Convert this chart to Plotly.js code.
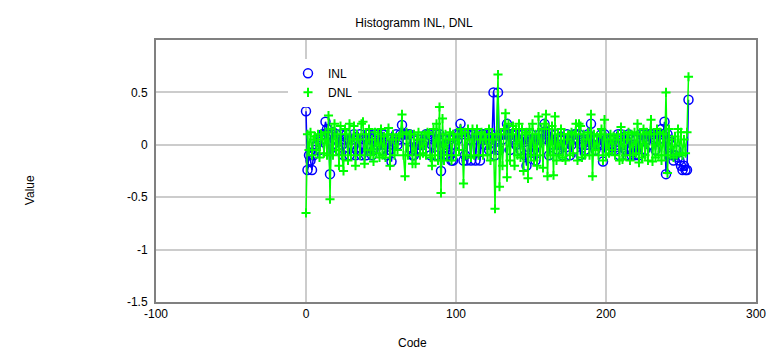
<!DOCTYPE html>
<html>
<head>
<meta charset="utf-8">
<script src="https://cdn.plot.ly/plotly-3.0.1.min.js"></script>
<style>html,body{margin:0;padding:0;background:#fff;}#chart{width:779px;height:356px;}</style>
</head>
<body>
<div id="chart"></div>
<script>
const chartTitle = "Histogramm INL, DNL";
const xTitle = "Code";
const yTitle = "Value";
const seriesNames = ["INL", "DNL"];
const xTickVals = [-100, 0, 100, 200, 300];
const xTickText = ["-100", "0", "100", "200", "300"];
const yTickVals = [-1.5, -1, -0.5, 0, 0.5];
const yTickText = ["-1.5", "-1", "-0.5", "0", "0.5"];

const inl = [
 0.32,-0.24,-0.10,-0.15,-0.24,-0.10,-0.05,0.00,0.05,-0.05,0.05,0.10,0.10,0.22,0.15,0.10,
 -0.28,0.10,0.12,0.05,0.10,0.05,-0.05,0.10,0.00,-0.10,0.05,0.10,0.05,-0.10,0.00,0.05,
 0.10,-0.10,-0.05,0.05,0.10,-0.10,0.00,0.05,-0.10,0.10,0.10,0.05,-0.10,-0.05,0.10,0.00,
 0.10,0.05,-0.05,0.10,0.10,0.00,-0.10,0.05,-0.05,-0.16,0.00,0.05,0.10,0.00,0.05,0.10,
 0.19,0.10,0.10,0.05,0.10,0.10,-0.05,-0.10,-0.10,-0.05,0.00,0.05,0.00,-0.05,0.00,0.05,
 0.10,0.05,0.10,-0.10,0.00,0.05,-0.10,0.10,0.05,0.10,-0.25,-0.10,0.05,0.00,-0.05,-0.10,
 0.05,-0.15,-0.15,0.00,0.10,0.05,0.10,0.20,0.10,-0.15,-0.10,-0.15,0.10,0.05,-0.15,0.10,
 0.10,-0.15,0.05,0.10,-0.15,0.05,0.10,0.00,0.10,0.05,-0.05,0.10,0.05,0.50,-0.10,0.05,
 0.50,-0.05,0.10,0.05,0.10,0.10,0.20,0.10,-0.05,0.10,0.05,0.10,0.00,0.10,0.05,-0.05,
 0.10,0.05,-0.10,-0.20,-0.05,0.05,0.10,0.05,-0.05,-0.15,0.00,0.05,0.10,0.05,0.10,0.20,
 0.10,0.05,-0.10,0.10,0.05,0.00,0.10,0.05,-0.05,0.00,0.05,-0.10,0.00,0.05,0.10,0.05,
 -0.10,0.00,0.05,0.10,0.10,0.05,0.10,-0.10,0.00,0.05,-0.05,0.00,0.10,0.05,0.20,0.00,
 0.05,-0.05,0.00,0.05,0.00,0.10,-0.16,0.10,0.05,0.00,-0.05,0.05,0.00,0.05,-0.05,0.00,
 0.10,-0.10,0.10,0.05,0.00,-0.05,-0.10,0.10,0.05,-0.10,0.00,-0.10,0.05,-0.05,-0.10,0.10,
 0.05,0.10,-0.05,0.05,0.10,0.00,0.10,0.10,0.05,-0.05,0.10,0.05,0.10,0.15,0.10,0.22,
 -0.28,0.10,0.05,0.00,-0.10,-0.15,-0.10,-0.05,-0.12,-0.15,-0.20,-0.24,-0.20,-0.24,-0.24,0.43
];

const dnl = [
 -0.65,0.10,-0.05,0.12,-0.10,0.05,0.08,-0.05,0.10,-0.12,0.10,0.05,-0.08,0.12,-0.10,0.28,
 -0.52,0.15,-0.10,0.20,-0.05,0.10,-0.20,0.18,-0.10,-0.25,0.15,0.10,-0.15,0.20,-0.10,0.05,
 0.18,-0.20,0.10,0.05,-0.10,0.20,0.22,-0.18,0.10,-0.05,0.15,-0.10,0.05,-0.16,0.12,-0.08,
 0.10,-0.12,0.15,-0.10,0.08,-0.12,0.10,0.16,-0.20,0.05,0.10,-0.10,0.05,-0.05,0.08,0.10,
 0.29,-0.10,-0.30,0.12,-0.10,0.10,0.10,-0.18,0.10,-0.18,0.05,0.12,-0.10,0.05,-0.08,0.10,
 -0.10,0.12,0.10,-0.12,-0.20,0.15,-0.10,0.20,-0.15,0.36,-0.46,0.25,-0.15,0.10,-0.10,0.05,
 0.12,-0.15,0.10,0.05,-0.10,0.10,-0.05,0.15,0.10,-0.37,0.12,-0.10,0.15,0.05,-0.12,0.15,
 -0.10,0.10,0.15,-0.10,0.05,0.12,-0.10,0.10,0.05,-0.10,0.15,-0.15,0.10,0.05,-0.61,0.10,
 0.67,-0.40,0.10,-0.20,0.15,0.30,-0.31,0.20,-0.15,0.10,0.18,-0.20,0.15,-0.10,0.20,-0.12,
 0.15,-0.25,0.10,0.12,-0.32,0.15,-0.10,0.20,-0.15,0.10,-0.20,0.27,-0.10,0.15,-0.22,0.20,
 0.29,-0.30,0.15,-0.10,0.18,-0.29,0.27,-0.15,0.10,-0.10,0.15,-0.12,0.10,-0.15,0.05,0.10,
 -0.10,0.12,-0.08,0.10,0.20,-0.15,0.20,0.18,-0.12,0.10,-0.10,0.05,0.12,-0.10,0.29,-0.30,
 0.10,-0.05,0.08,-0.10,0.10,0.15,-0.15,0.24,-0.10,0.05,-0.08,0.10,-0.05,0.08,-0.10,0.05,
 0.10,-0.15,0.17,-0.14,0.10,-0.10,0.05,0.12,-0.15,0.10,-0.10,0.12,-0.08,0.20,-0.17,0.10,
 -0.12,0.15,-0.10,0.12,-0.15,0.10,0.24,-0.16,0.10,-0.12,0.15,-0.10,0.12,-0.15,0.10,-0.10,
 0.50,-0.27,0.15,-0.10,0.05,-0.12,0.08,-0.10,0.15,-0.08,0.12,-0.10,0.05,-0.08,0.12,0.65
];

const codes = inl.map((_, i) => i);

const blue = "#0000ff";
const green = "#00ff00";

const circleMarker = {symbol: "circle-open", size: 9, color: blue, line: {width: 1.5, color: blue}};
const crossMarker = {symbol: "cross-thin-open", size: 6.5, color: green, line: {width: 2, color: green}};

const traces = [
  {x: codes, y: inl, type: "scatter", mode: "lines+markers", name: seriesNames[0], showlegend: false,
   line: {color: blue, width: 1.5}, marker: circleMarker},
  {x: codes, y: dnl, type: "scatter", mode: "lines+markers", name: seriesNames[1], showlegend: false,
   line: {color: green, width: 1.5}, marker: crossMarker},
  {x: [null], y: [null], type: "scatter", mode: "markers", name: seriesNames[0], marker: circleMarker},
  {x: [null], y: [null], type: "scatter", mode: "markers", name: seriesNames[1], marker: crossMarker}
];

const font = {family: "Liberation Sans, Arial, sans-serif", size: 12, color: "#000"};

const layout = {
  width: 779, height: 356,
  margin: {l: 156, r: 23, t: 40, b: 54, pad: 0},
  paper_bgcolor: "#fff", plot_bgcolor: "#fff",
  font: font,
  showlegend: true,
  title: {text: chartTitle, x: 0.43, xref: "paper", xanchor: "center", y: 1, yref: "container", yanchor: "top", pad: {t: 19}, font: {family: font.family, size: 12, color: "#000"}},
  xaxis: {range: [-100, 300], tickvals: xTickVals, ticktext: xTickText, ticks: "", showgrid: true, gridcolor: "#cccccc", gridwidth: 2,
          zeroline: false, showline: true, linecolor: "#808080", linewidth: 2, mirror: true,
          tickfont: font, fixedrange: true},
  yaxis: {range: [-1.5, 1.0], tickvals: yTickVals, ticktext: yTickText, ticks: "", showgrid: true, gridcolor: "#cccccc", gridwidth: 2,
          zeroline: false, showline: true, linecolor: "#808080", linewidth: 2, mirror: true,
          tickfont: font, ticklabelstandoff: 4, fixedrange: true},
  legend: {x: 0.22, y: 0.928, xanchor: "left", yanchor: "top", bgcolor: "#ffffff", borderwidth: 0,
           font: font, itemwidth: 30, tracegroupgap: 0},
  annotations: [
    {text: xTitle, xref: "paper", yref: "paper", x: 0.428, y: -0.155, xanchor: "center", yanchor: "middle", showarrow: false, font: font},
    {text: yTitle, xref: "paper", yref: "paper", x: -0.21, y: 0.427, xanchor: "center", yanchor: "middle", showarrow: false, textangle: -90, font: font}
  ]
};

Plotly.newPlot("chart", traces, layout, {displayModeBar: false, staticPlot: true});
</script>
</body>
</html>
